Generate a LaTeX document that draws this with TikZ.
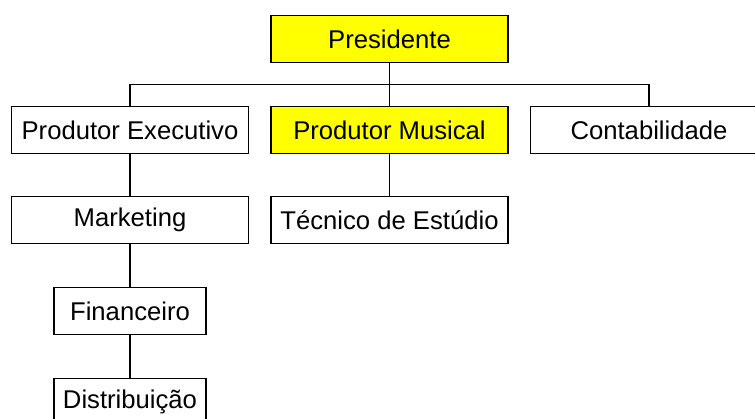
\documentclass[tikz,border=0pt]{standalone}
\usepackage{fontspec}
\setmainfont{Liberation Sans}
\usepackage{xcolor}
\usetikzlibrary{positioning,calc}
\definecolor{chiefyellow}{RGB}{255,255,0}

\begin{document}
\begin{tikzpicture}[x=0.02cm, y=-0.02cm,
    org box/.style={draw, rectangle, line width=0.6pt, fill=white,
        minimum width=4.74cm, minimum height=0.95cm, inner sep=0pt,
        font=\fontsize{14.6}{17}\selectfont},
    small box/.style={org box, minimum width=3.04cm},
    chief/.style={fill=chiefyellow},
    org line/.style={line width=0.6pt}]
    \useasboundingbox (0,0) rectangle (755,419);
    \clip (0,0) rectangle (755,419);

    \node[org box, chief] (pres) at (389.5,39) {Presidente};
    \node[org box] (prodexec) at (130,130) {Produtor Executivo};
    \node[org box, chief] (prodmus) at (389.5,130) {Produtor Musical};
    \node[org box] (contab) at (649,130) {Contabilidade};
    \node[org box] (mkt) at (130,220) {Marketing};
    \node[org box] (tecnico) at (389.5,220) {Técnico de Estúdio};
    \node[small box] (fin) at (130,311) {Financeiro};
    \node[small box] (distr) at (130,402) {Distribuição};

    \coordinate (bus) at (389.5,84.3);

    \draw[org line] (pres) -- (prodmus);
    \draw[org line] (prodexec) |- (bus) -| (contab);
    \draw[org line] (prodexec) -- (mkt);
    \draw[org line] (mkt) -- (fin);
    \draw[org line] (fin) -- (distr);
    \draw[org line] (prodmus) -- (tecnico);
\end{tikzpicture}
\end{document}
